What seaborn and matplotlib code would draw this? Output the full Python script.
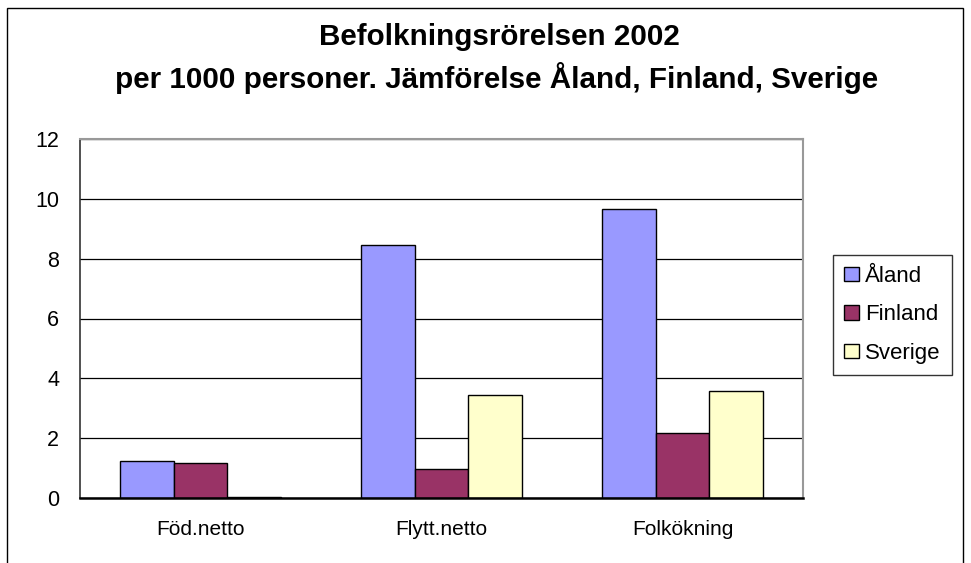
import matplotlib
matplotlib.use("Agg")
import matplotlib.pyplot as plt
import matplotlib.patches as mpatches
import seaborn as sns
import pandas as pd

categories = ["Föd.netto", "Flytt.netto", "Folkökning"]
regions = ["Åland", "Finland", "Sverige"]
aland = [1.24, 8.46, 9.65]
finland = [1.18, 0.97, 2.18]
sverige = [0.05, 3.44, 3.58]
yticks = [0, 2, 4, 6, 8, 10, 12]
colors = ["#9999FF", "#993366", "#FFFFCC"]

rows = []
for region, vals in zip(regions, [aland, finland, sverige]):
    for cat, v in zip(categories, vals):
        rows.append({"kategori": cat, "region": region, "varde": v})
df = pd.DataFrame(rows)

sns.set_style("white")
plt.rcParams["font.family"] = ["Liberation Sans", "DejaVu Sans"]
plt.rcParams["text.color"] = "black"
plt.rcParams["xtick.labelcolor"] = "black"
plt.rcParams["ytick.labelcolor"] = "black"

fig = plt.figure(figsize=(9.71, 5.63), dpi=100)
ax = fig.add_axes([80 / 971, 65 / 563, 723 / 971, 359 / 563])

sns.barplot(data=df, x="kategori", y="varde", hue="region", order=categories,
            hue_order=regions, palette=colors, width=0.67, edgecolor="black",
            linewidth=1, saturation=1, ax=ax, legend=False)

ax.set_ylim(0, 12)
ax.set_xlim(-0.5, 2.5)
ax.set_yticks(yticks)
ax.set_yticklabels([str(t) for t in yticks], fontsize=15.5)
ax.yaxis.grid(True, color="black", linewidth=0.9)
ax.set_axisbelow(True)
ax.set_xlabel("")
ax.set_ylabel("")

# category labels between boundary ticks
ax.set_xticks([-0.5, 0.5, 1.5, 2.5])
ax.set_xticklabels([])
ax.set_xticks([0, 1, 2], minor=True)
ax.set_xticklabels(categories, minor=True, fontsize=15)
ax.tick_params(axis="x", which="major", direction="out", length=6, width=1, color="black")
ax.tick_params(axis="x", which="minor", length=0, pad=16)
ax.tick_params(axis="y", direction="out", length=6, width=1, color="black", pad=9)

for side in ["top", "right"]:
    ax.spines[side].set_color("#999999")
    ax.spines[side].set_linewidth(1.5)
ax.spines["left"].set_color("#333333")
ax.spines["left"].set_linewidth(1.2)
ax.spines["bottom"].set_color("black")
ax.spines["bottom"].set_linewidth(1.8)

handles = [mpatches.Patch(facecolor=c, edgecolor="black", linewidth=1, label=r)
           for c, r in zip(colors, regions)]
leg = fig.legend(handles=handles, loc="upper left", bbox_to_anchor=(833 / 971, 1 - 255 / 563),
                 fontsize=16, frameon=True, fancybox=False, handlelength=0.65,
                 handleheight=0.62, handletextpad=0.3, labelspacing=0.78,
                 borderpad=0.5, borderaxespad=0)
leg.get_frame().set_edgecolor("black")
leg.get_frame().set_linewidth(1)

fig.text(499 / 971, 1 - 45 / 563, "Befolkningsrörelsen 2002", ha="center", va="baseline",
         fontsize=21.3, fontweight="bold")
fig.text(497 / 971, 1 - 88 / 563, "per 1000 personer. Jämförelse Åland, Finland, Sverige",
         ha="center", va="baseline", fontsize=21.3, fontweight="bold")

# outer chart frame
fig.patches.append(mpatches.Rectangle((7 / 971, -0.05), 956 / 971, 1.05 - 8 / 563,
                                      transform=fig.transFigure, fill=False,
                                      edgecolor="black", linewidth=1))

fig.savefig("out.png", dpi=100)
